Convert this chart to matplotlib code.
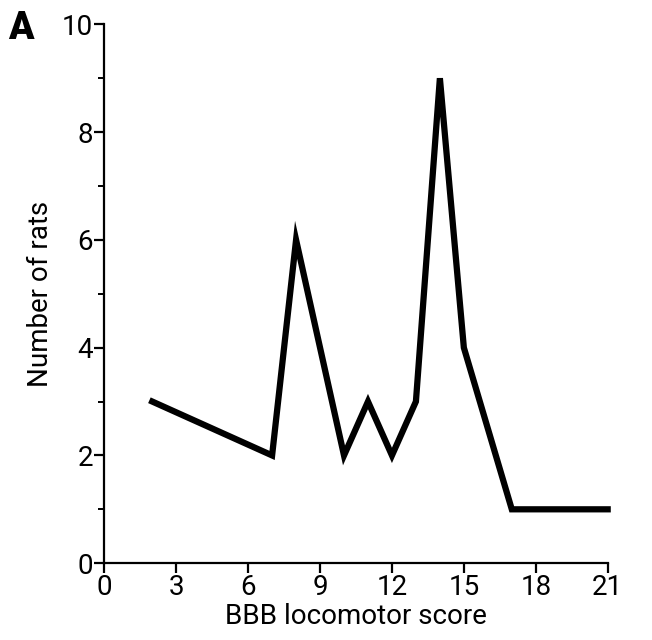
import matplotlib
matplotlib.use("Agg")
import matplotlib.pyplot as plt
from matplotlib.ticker import MultipleLocator

scores = [2, 7, 8, 10, 11, 12, 13, 14, 15, 17, 21]
n_rats = [3, 2, 6, 2, 3, 2, 3, 9, 4, 1, 1]
xticks = [0, 3, 6, 9, 12, 15, 18, 21]
yticks = [0, 2, 4, 6, 8, 10]

plt.rcParams['font.family'] = ['Roboto', 'DejaVu Sans']
fig = plt.figure(figsize=(6.52, 6.4), dpi=100)
ax = fig.add_axes([0.16, 0.12, 0.772, 0.842])
ax.plot(scores, n_rats, color='black', lw=4.5, solid_joinstyle='miter', clip_on=False)
ax.set_xlim(0, 21)
ax.set_ylim(0, 10)
ax.set_xticks(xticks)
ax.set_yticks(yticks)
ax.yaxis.set_minor_locator(MultipleLocator(1))
for s in ['top', 'right']:
    ax.spines[s].set_visible(False)
for s in ['left', 'bottom']:
    ax.spines[s].set_linewidth(1.6)
ax.tick_params(axis='both', which='major', direction='out', length=7, width=1.6, labelsize=20, pad=1)
ax.tick_params(axis='y', which='minor', direction='out', length=4, width=1.4)
ax.set_xlabel('BBB locomotor score', fontsize=20, labelpad=1)
ax.set_ylabel('Number of rats', fontsize=20, labelpad=6)
fig.text(0.012, 0.955, 'A', fontsize=27, fontweight='heavy', va='center', ha='left')
fig.savefig('out.png', dpi=100)
